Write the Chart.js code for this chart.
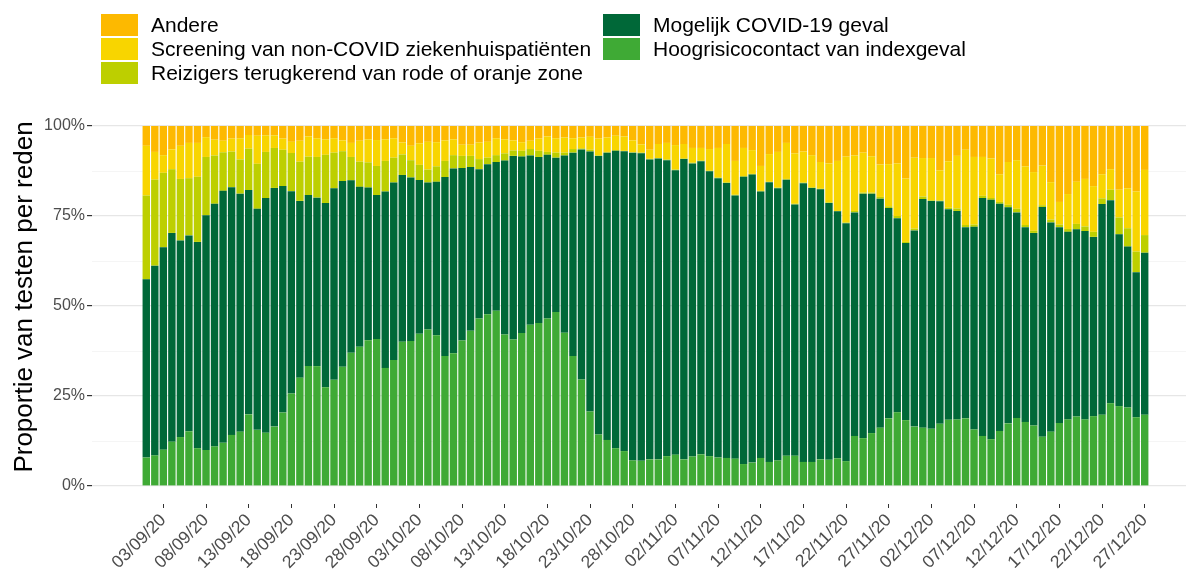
<!DOCTYPE html>
<html>
<head>
<meta charset="utf-8">
<script src="https://cdn.jsdelivr.net/npm/chart.js@4"></script>
<style>
    body { margin: 0; background: #fff; }
    #wrap { position: relative; width: 1186px; height: 576px; }
    #legend { position: absolute; left: 0; top: 0; font-family: "Liberation Sans", Arial, sans-serif; font-size: 21px; color: #000; }
    .item { position: absolute; height: 22px; line-height: 22px; white-space: nowrap; }
    .swatch { position: absolute; left: 0; top: 0; width: 37px; height: 22px; }
    .label { position: absolute; left: 50px; top: 0; }
    #ytitle { position: absolute; left: -177px; top: 284px; width: 400px; height: 26px; line-height: 26px; text-align: center;
        font-family: "Liberation Sans", Arial, sans-serif; font-size: 26px; color: #000; transform: rotate(-90deg); white-space: nowrap; }
</style>
</head>
<body>
<div id="wrap">
    <canvas id="chart"></canvas>
    <div id="legend"></div>
    <div id="ytitle">Proportie van testen per reden</div>
</div>
<script>
// days: 01/09/20 .. 27/12/20
const nDays = 118;
let days = [];
for (let i = 0; i < nDays; i++) {
    const d = new Date(2020, 8, 1 + i);
    days.push(String(d.getDate()).padStart(2, "0") + "/" + String(d.getMonth() + 1).padStart(2, "0") + "/20");
}

// proportions (%) per day, bottom to top of the stack
const hoog = [7.9,8.5,10.1,12.3,13.6,15.2,10.5,10.0,11.0,12.0,
    14.2,15.1,19.9,15.6,14.8,16.5,20.4,25.7,30.1,33.3,
    33.3,27.4,29.5,33.1,37.0,38.7,40.5,40.8,32.8,35.0,
    40.1,40.3,42.3,43.5,41.9,36.1,36.9,40.4,43.1,46.5,
    47.7,48.7,42.1,40.7,42.5,44.8,45.3,46.5,48.3,42.6,
    36.1,29.6,20.7,14.3,12.8,10.5,9.7,7.1,7.0,7.4,
    7.4,8.3,8.7,7.4,8.2,8.8,8.3,7.9,7.8,7.6,
    6.1,6.5,7.8,6.7,7.1,8.4,8.4,6.7,6.7,7.4,
    7.3,7.7,6.9,13.9,13.3,14.7,16.2,18.8,20.5,18.3,
    16.5,16.2,15.9,17.3,18.4,18.5,18.8,15.7,13.9,13.0,
    15.3,17.4,18.9,17.8,16.8,13.7,15.1,17.5,18.5,19.3,
    18.5,19.4,19.8,23.0,22.2,21.8,19.1,19.8];

const mogelijk = [49.5,52.7,56.2,58.0,54.6,54.4,57.3,65.2,67.4,70.0,
    68.8,66.1,62.3,61.4,65.2,66.3,62.9,56.2,49.1,47.5,
    46.8,51.2,53.2,51.6,47.9,44.4,42.4,40.0,49.0,49.3,
    46.3,45.4,42.7,40.8,42.6,49.7,51.3,47.9,45.5,41.5,
    41.7,41.3,48.3,51.0,49.0,47.0,46.1,45.5,42.9,49.2,
    56.5,63.9,72.2,77.4,79.8,82.6,83.3,85.5,85.4,83.3,
    83.6,82.2,79.0,83.4,81.4,81.4,79.1,77.6,76.4,73.1,
    79.8,80.0,74.0,77.7,75.6,76.7,69.8,77.4,76.1,75.0,
    71.3,68.6,66.1,62.1,67.9,66.5,63.6,58.4,53.9,49.2,
    54.5,63.5,63.3,61.8,58.5,57.9,53.1,56.3,66.1,66.5,
    63.1,60.0,57.1,54.1,53.5,63.8,58.1,54.4,52.1,52.0,
    52.3,49.8,58.5,56.4,47.7,44.7,40.3,45.0];

const reizigers = [23.3,23.9,20.7,17.7,17.1,15.9,18.1,16.2,13.4,10.7,
    9.9,9.5,11.5,12.5,12.8,11.1,10.1,10.6,10.9,10.7,
    11.3,13.4,9.9,8.3,6.5,7.0,7.0,8.1,8.5,6.9,
    5.7,4.8,4.2,3.6,4.3,4.5,3.7,3.4,3.1,2.8,
    1.8,1.9,2.0,1.5,1.6,1.8,1.7,0.8,1.4,0.8,
    1.0,0.3,0.5,0.2,0.2,0.2,0.1,0.1,0.2,0.2,
    0.1,0.2,0.2,0.2,0.2,0.2,0.2,0.2,0.2,0.2,
    0.2,0.2,0.2,0.1,0.2,0.2,0.2,0.2,0.2,0.2,
    0.2,0.1,0.2,0.4,0.3,0.3,0.5,0.5,0.6,0.3,
    0.5,0.7,0.2,0.2,0.4,0.7,0.6,0.6,0.6,0.5,
    0.5,0.7,1.0,0.6,0.6,0.5,0.8,0.7,0.8,1.5,
    1.3,1.4,1.6,2.9,4.7,5.1,5.7,4.9];

const screening = [13.8,7.7,4.9,5.5,9.2,9.8,9.4,5.5,4.4,3.2,
    3.6,5.9,3.8,7.8,4.6,3.5,3.1,3.1,5.8,5.6,
    5.2,4.3,4.0,3.0,3.9,5.8,6.4,7.2,6.0,5.4,
    3.3,4.0,6.0,7.7,6.7,5.7,4.4,3.1,3.1,4.6,
    4.4,4.7,3.9,2.8,2.4,2.3,3.4,4.3,4.0,4.2,
    3.0,3.0,3.6,4.6,4.0,4.0,4.0,3.3,2.3,2.5,
    3.9,4.6,6.8,4.0,4.1,3.5,6.0,8.2,10.6,9.4,
    7.8,6.6,6.9,7.7,9.9,10.0,14.0,8.6,8.9,7.4,
    10.8,13.9,18.3,15.4,11.1,10.1,9.0,11.7,14.6,17.6,
    19.7,10.7,11.7,8.4,12.9,14.6,20.9,18.8,10.8,11.0,
    7.7,11.9,13.5,16.3,16.3,11.0,10.4,6.3,9.7,11.7,
    13.2,12.7,6.7,5.7,7.7,11.1,16.7,18.1];

const andere = [5.5,7.2,8.1,6.5,5.5,4.7,4.7,3.1,3.8,4.1,
    3.5,3.4,2.5,2.7,2.6,2.6,3.5,4.4,4.1,2.9,
    3.4,3.7,3.4,4.0,4.7,4.1,3.7,3.9,3.7,3.4,
    4.6,5.5,4.8,4.4,4.5,4.0,3.7,5.2,5.2,4.6,
    4.4,3.4,3.7,4.0,4.5,4.1,3.5,2.9,3.4,3.2,
    3.4,3.2,3.0,3.5,3.2,2.7,2.9,4.0,5.1,6.6,
    5.0,4.7,5.3,5.0,6.1,6.1,6.4,6.1,5.0,9.7,
    6.1,6.7,11.1,7.8,7.2,4.7,7.6,7.1,8.1,10.0,
    10.4,9.7,8.5,8.2,7.4,8.4,10.7,10.6,10.4,14.6,
    8.8,8.9,8.9,12.3,9.8,8.3,6.6,8.6,8.6,9.0,
    13.4,10.0,9.5,11.2,12.8,11.0,15.6,21.1,18.9,15.5,
    14.7,16.7,13.4,12.0,17.7,17.3,18.2,12.2];

const seriesNames = ["Hoogrisicocontact van indexgeval", "Mogelijk COVID-19 geval",
    "Reizigers terugkerend van rode of oranje zone", "Screening van non-COVID ziekenhuispatiënten", "Andere"];
const seriesData = [hoog, mogelijk, reizigers, screening, andere];
const seriesColors = ["#3FAA35", "#006838", "#BDCF00", "#F8D500", "#FDB900"];

const yTicks = [0, 12.5, 25, 37.5, 50, 62.5, 75, 87.5, 100];
const xTickIdx = [];
for (let i = 2; i < nDays; i += 5) xTickIdx.push(i);

// legend in two columns, like the original
const legendItems = [
    { s: 4, col: 0, row: 0 }, { s: 3, col: 0, row: 1 }, { s: 2, col: 0, row: 2 },
    { s: 1, col: 1, row: 0 }, { s: 0, col: 1, row: 1 }
];
const legend = document.getElementById("legend");
legendItems.forEach(it => {
    const el = document.createElement("div");
    el.className = "item";
    el.style.left = (it.col === 0 ? 101 : 603) + "px";
    el.style.top = (14 + it.row * 24) + "px";
    el.innerHTML = '<span class="swatch" style="background:' + seriesColors[it.s] + '"></span><span class="label">' + seriesNames[it.s] + '</span>';
    legend.appendChild(el);
});

const datasets = seriesData.map((arr, k) => ({
    label: seriesNames[k],
    data: arr.map((v, i) => ({ x: i, y: v })),
    backgroundColor: seriesColors[k],
    borderWidth: 0,
    barPercentage: 0.87,
    categoryPercentage: 1.0
}));

const ctx = document.getElementById("chart").getContext("2d");
new Chart(ctx, {
    type: 'bar',
    data: { datasets: datasets },
    options: {
        responsive: true,
        maintainAspectRatio: false,
        animation: false,
        layout: { padding: { top: 108, left: 0, right: 0, bottom: 0 } },
        plugins: { legend: { display: false }, tooltip: { enabled: false } },
        scales: {
            x: {
                type: 'linear',
                stacked: true,
                offset: false,
                min: -6.36,
                max: 121.84,
                afterBuildTicks: (scale) => { scale.ticks = xTickIdx.map(v => ({ value: v })); },
                afterFit: (scale) => { scale.height = 72; },
                border: { display: false },
                grid: { offset: false, drawOnChartArea: false, drawTicks: true, tickLength: 4, tickColor: '#333333', lineWidth: 1 },
                ticks: {
                    autoSkip: false,
                    maxRotation: 45,
                    minRotation: 45,
                    padding: 2,
                    color: '#4D4D4D',
                    font: { family: 'Liberation Sans', size: 17.5 },
                    callback: (v) => days[v]
                }
            },
            y: {
                stacked: true,
                min: -5,
                max: 105,
                afterBuildTicks: (scale) => { scale.ticks = yTicks.map(v => ({ value: v })); },
                afterFit: (scale) => { scale.width = 92; },
                border: { display: false },
                grid: {
                    color: (c) => c.tick && c.tick.value % 25 === 0 ? '#E6E6E6' : '#F3F3F3',
                    lineWidth: (c) => c.tick && c.tick.value % 25 === 0 ? 1.2 : 0.8,
                    tickColor: (c) => c.tick && c.tick.value % 25 === 0 ? '#333333' : 'rgba(0,0,0,0)',
                    tickLength: 5
                },
                ticks: {
                    padding: 2,
                    color: '#4D4D4D',
                    font: { family: 'Liberation Sans', size: 16 },
                    callback: (v) => v % 25 === 0 ? v + '%' : ''
                }
            }
        }
    }
});
</script>
</body>
</html>
